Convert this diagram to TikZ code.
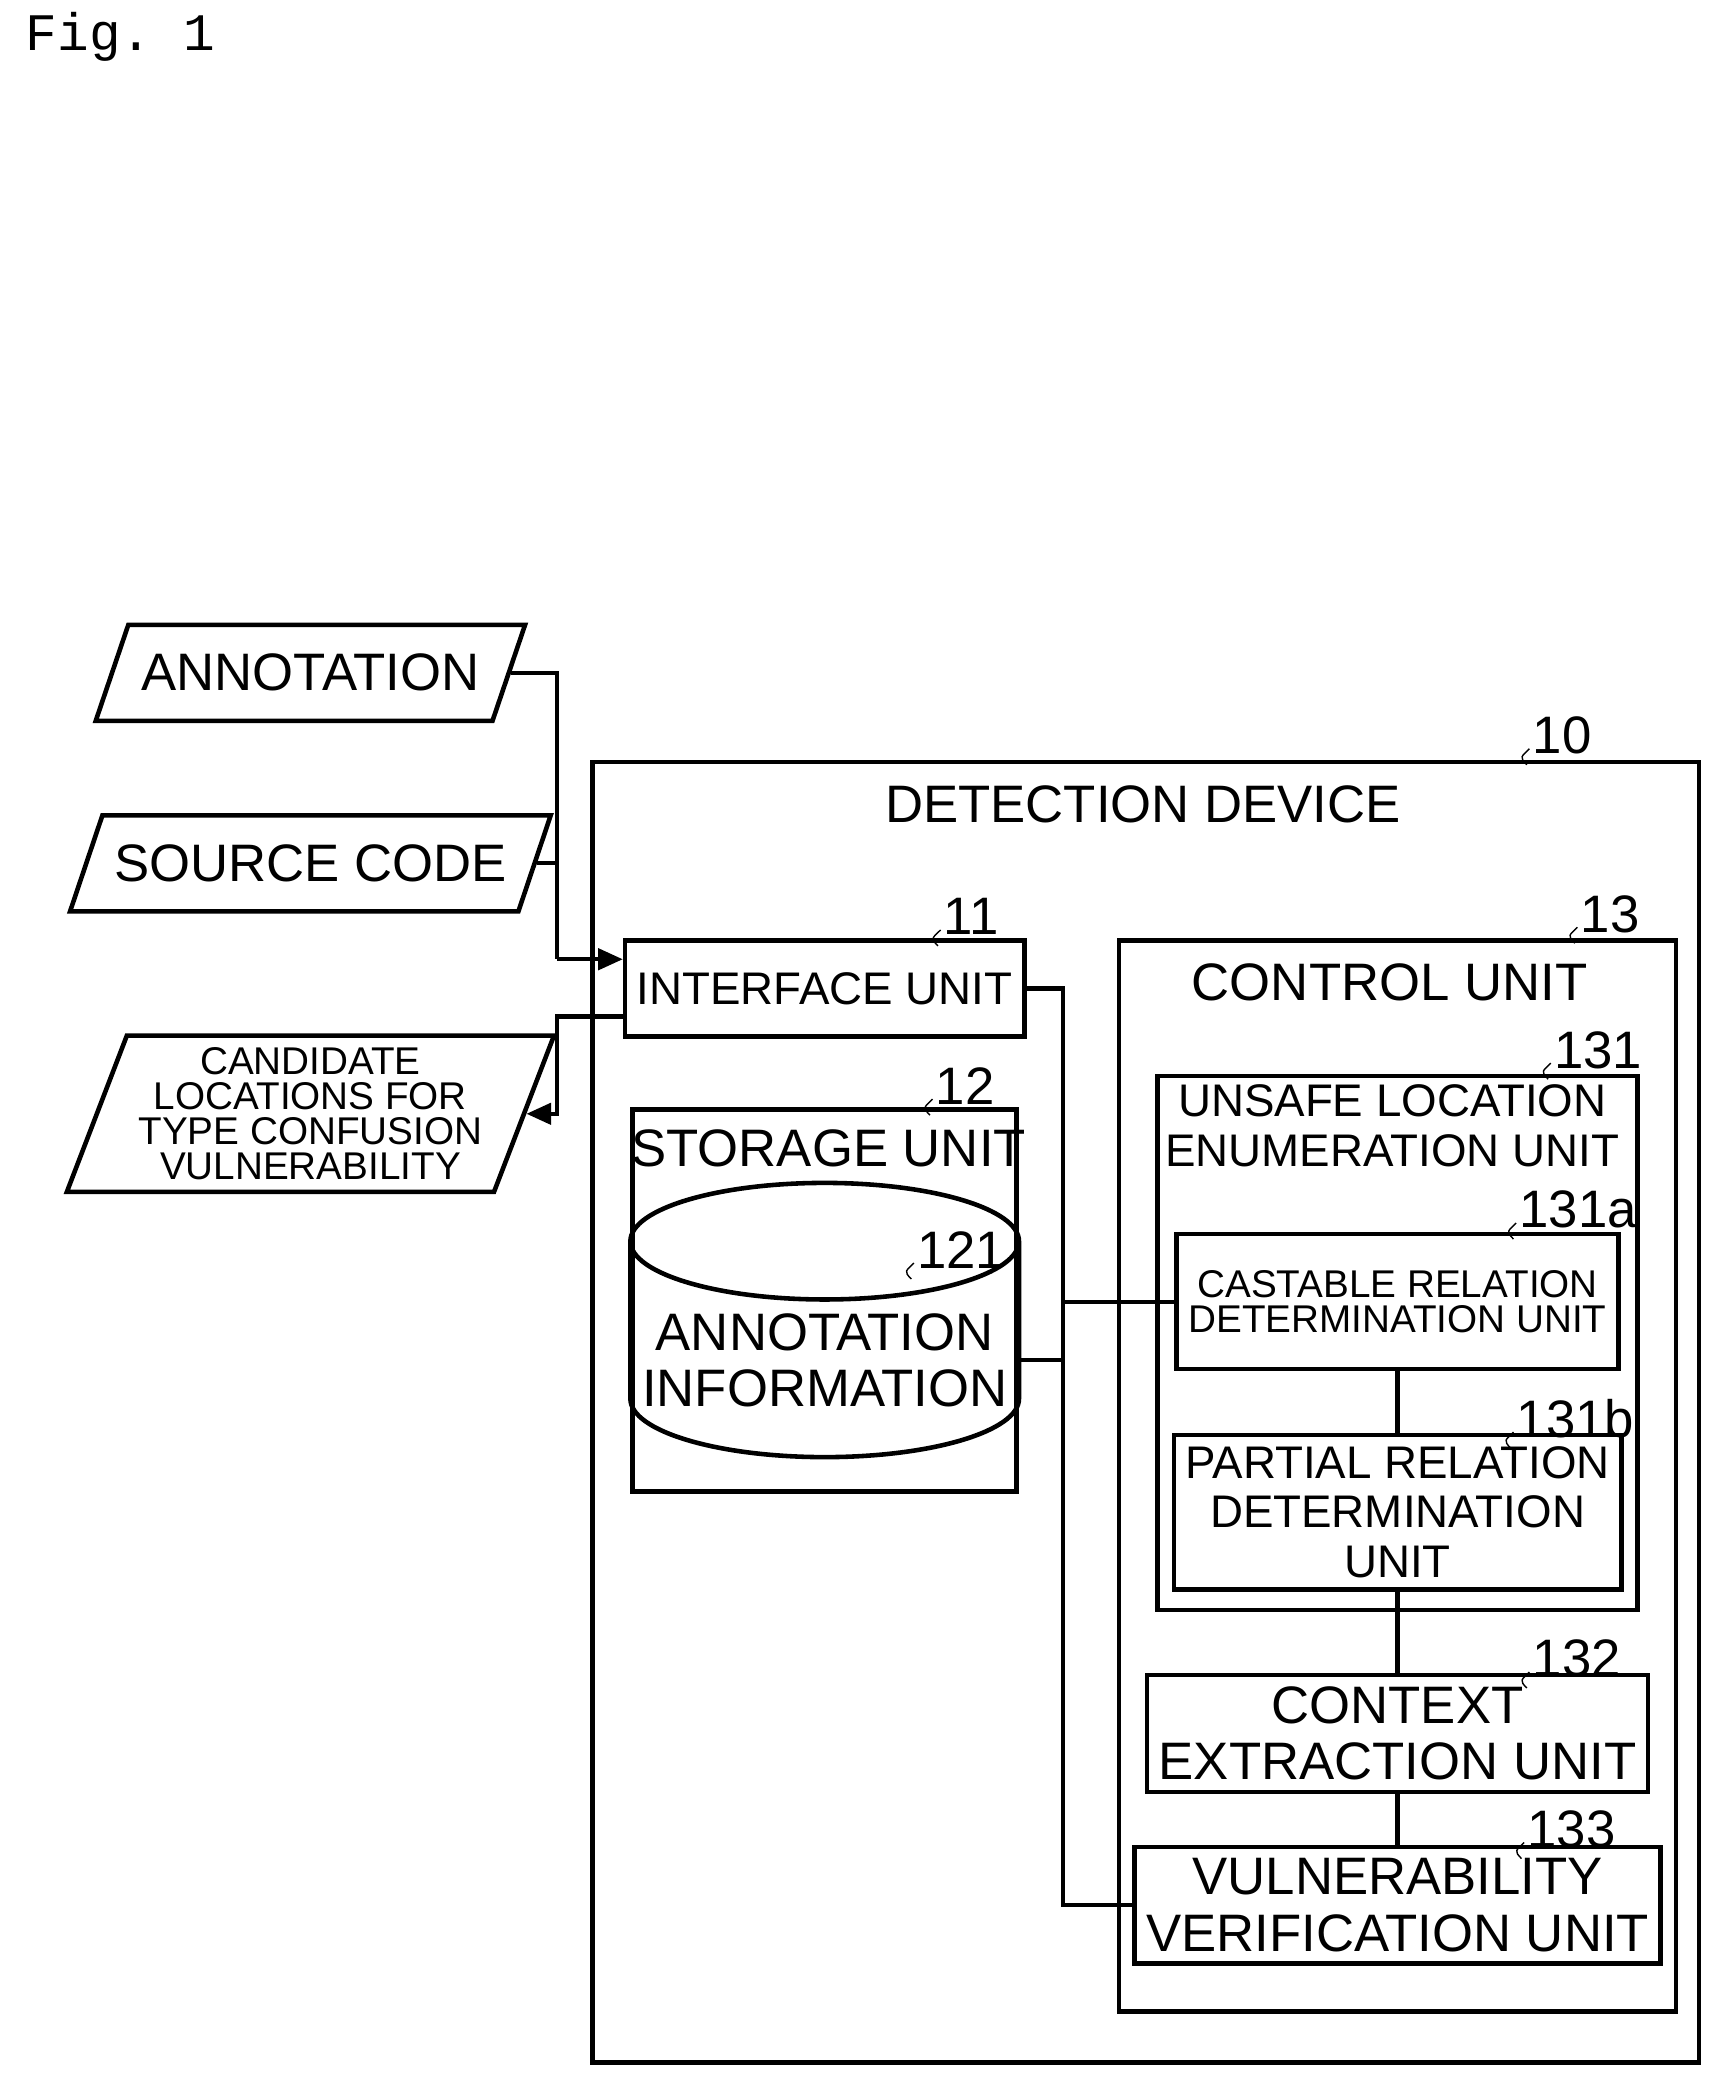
\documentclass[tikz,border=0pt]{standalone}
\usepackage{fontspec}
\setmainfont{Liberation Sans}
\setmonofont{Liberation Mono}
\usetikzlibrary{shapes.geometric, arrows.meta, positioning, calc}

\newcommand{\refnum}[2]{%
  \draw[thin] ($(#1)+(-14,22)$) .. controls +(-6,-6) and +(-6,6) .. ($(#1)+(-12,10)$);
  \node[anchor=west, font=\fontsize{15}{15}\selectfont, inner sep=0pt] at ($(#1)+(-10,0)$) {#2};}

\begin{document}
\begin{tikzpicture}[
  x=0.013323cm, y=-0.013323cm,
  >={Triangle[length=7pt,width=6pt]},
  every node/.style={align=center},
  box/.style={rectangle, draw, line width=1.3pt},
  data/.style={trapezium, trapezium left angle=62, trapezium right angle=118,
               trapezium stretches=true, draw, line width=1.3pt, minimum width=4.30cm},
  big/.style={font=\fontsize{15}{16}\selectfont},
  mid/.style={font=\fontsize{13}{14}\selectfont},
  small/.style={font=\fontsize{11}{10}\selectfont},
  link/.style={line width=1.2pt}
]
\useasboundingbox (0,0) rectangle (1300,1574);

\node[anchor=west, font=\ttfamily\fontsize{15}{15}\selectfont] (fig) at (10,28) {Fig. 1};

% inputs and output
\node[data, big, minimum height=0.96cm] (annot) at (233,505) {ANNOTATION};
\node[data, big, minimum height=0.96cm] (src) at (233,648) {SOURCE CODE};
\node[data, small, minimum height=1.35cm, trapezium left angle=69, trapezium right angle=111] (cand) at (233,836)
  {CANDIDATE\\LOCATIONS FOR\\TYPE CONFUSION\\VULNERABILITY};

% detection device
\node[box, minimum width=11.06cm, minimum height=13.00cm] (device) at (860,1060) {};
\node[big] (devtitle) at (858,604) {DETECTION DEVICE};
\node[box, mid, minimum width=3.84cm, minimum height=0.96cm] (iface) at (619,742) {INTERFACE UNIT};
\node[box, minimum width=3.84cm, minimum height=3.82cm] (storage) at (619,976) {};
\node[big] (stortitle) at (622,862) {STORAGE UNIT};
\node[cylinder, shape border rotate=90, draw, line width=1.3pt, aspect=0.3,
      minimum width=3.09cm, minimum height=1.69cm, big] (info) at (619,1021) {ANNOTATION\\INFORMATION};

% control unit
\node[box, minimum width=5.57cm, minimum height=10.71cm] (control) at (1049,1108) {};
\node[big] (ctrltitle) at (1043,737) {CONTROL UNIT};
\node[box, minimum width=4.80cm, minimum height=5.34cm] (enum) at (1049,1008) {};
\node[mid] (enumtitle) at (1045,845) {UNSAFE LOCATION\\ENUMERATION UNIT};
\node[box, small, minimum width=3.84cm, minimum height=1.35cm] (cast) at (1049,977)
  {CASTABLE RELATION\\DETERMINATION UNIT};
\node[box, mid, minimum width=3.84cm, minimum height=1.35cm] (partial) at (1049,1135)
  {PARTIAL RELATION\\DETERMINATION\\UNIT};
\node[box, big, minimum width=4.80cm, minimum height=0.96cm] (context) at (1049,1301)
  {CONTEXT\\EXTRACTION UNIT};
\node[box, big, minimum width=4.80cm, minimum height=0.99cm] (verify) at (1049,1430)
  {VULNERABILITY\\VERIFICATION UNIT};

% reference numerals
\refnum{1160,552}{10}
\refnum{718,688}{11}
\refnum{712,815}{12}
\refnum{1196,686}{13}
\refnum{698,938}{121}
\refnum{1176,788}{131}
\refnum{1150,908}{131a}
\refnum{1148,1065}{131b}
\refnum{1160,1245}{132}
\refnum{1156,1373}{133}

% connectors
\coordinate (busin) at (418,720);
\coordinate (busout) at (418,763);
\coordinate (bus) at (798,742);
\draw[link] (annot.east) -- (busin |- annot.east) -- (busin);
\draw[link] (src.east) -- (busin |- src.east);
\draw[link, ->] (busin) -- (iface.west |- busin);
\draw[link, ->] (iface.west |- busout) -- (busout) -- (busout |- cand.east) -- (cand.east);
\draw[link] (iface.east |- bus) -- (bus) -- (bus |- verify.west) -- (verify.west);
\draw[link] (info.east) -- (bus |- info.east);
\draw[link] (bus |- cast.west) -- (cast.west);
\draw[link] (cast.south) -- (partial.north);
\draw[link] (partial.south) -- (context.north);
\draw[link] (context.south) -- (verify.north);
\end{tikzpicture}
\end{document}
